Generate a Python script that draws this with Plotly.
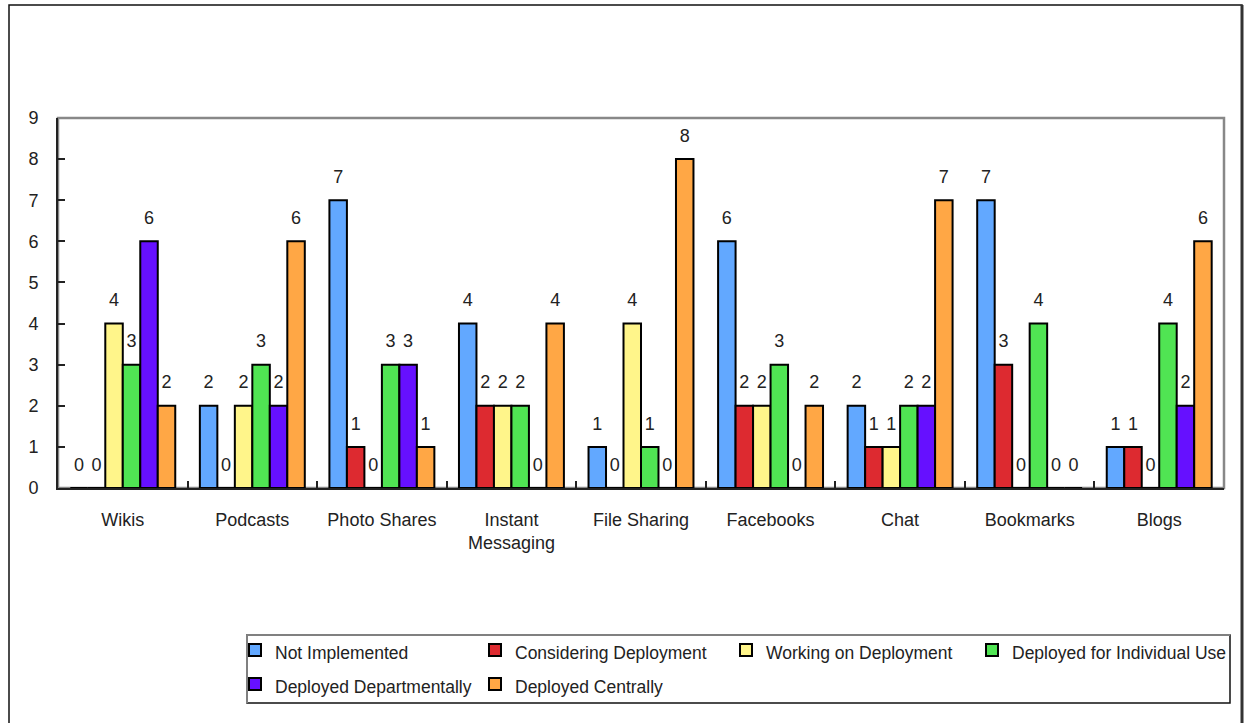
import plotly.graph_objects as go

categories = ["Wikis", "Podcasts", "Photo Shares", "Instant<br>Messaging", "File Sharing",
              "Facebooks", "Chat", "Bookmarks", "Blogs"]
series_names = ["Not Implemented", "Considering Deployment", "Working on Deployment",
                "Deployed for Individual Use", "Deployed Departmentally", "Deployed Centrally"]
not_implemented = [0, 2, 7, 4, 1, 6, 2, 7, 1]
considering = [0, 0, 1, 2, 0, 2, 1, 3, 1]
working = [4, 2, 0, 2, 4, 2, 1, 0, 0]
individual = [3, 3, 3, 2, 1, 3, 2, 4, 4]
departmental = [6, 2, 3, 0, 0, 0, 2, 0, 2]
central = [2, 6, 1, 4, 8, 2, 7, 0, 6]
series_values = [not_implemented, considering, working, individual, departmental, central]
colors = ["#62A8FF", "#DD2A30", "#FFF58A", "#50E453", "#6610FF", "#FFA745"]
y_ticks = [0, 1, 2, 3, 4, 5, 6, 7, 8, 9]

# legend layout: which legend row each series goes into, and item widths (px)
legend_ids = ["legend", "legend", "legend", "legend", "legend2", "legend2"]
legend_widths = [195, 206, 201, 222, 195, 160]

FONT = "Liberation Sans, Arial, sans-serif"
FS = 18
LEG_FS = 17.5
W, H = 1250, 723
ML, MR, MT, MB = 58, 26, 118, 235
PW, PH = W - ML - MR, H - MT - MB

def px_x(p):
    return (p - ML) / PW

def px_y(p):
    return (H - MB - p) / PH

fig = go.Figure()
GAP = 0.19
for i, (name, vals, col) in enumerate(zip(series_names, series_values, colors)):
    fig.add_trace(go.Bar(
        name=f'<span style="font-size:{LEG_FS}px">{name}</span>', x=categories, y=vals,
        marker_color=col, marker_line=dict(color="#000000", width=2), offsetgroup=f"g{i}",
        hovertemplate=name + ": %{y}<extra></extra>",
        legend=legend_ids[i], legendwidth=legend_widths[i],
    ))
for i, vals in enumerate(series_values):
    fig.add_trace(go.Scatter(
        x=categories, y=vals, mode="markers+text", text=[str(v) for v in vals],
        textposition="top center", offsetgroup=f"g{i}", showlegend=False,
        marker=dict(size=19, color="rgba(0,0,0,0)", line=dict(width=0)),
        textfont=dict(family=FONT, size=FS, color="#222222"), hoverinfo="skip",
        cliponaxis=False,
    ))

legend_common = dict(
    orientation="h", xref="container", yref="container", xanchor="left", yanchor="top",
    borderwidth=0, bgcolor="rgba(0,0,0,0)", entrywidthmode="pixels",
    font=dict(family=FONT, size=23.8, color="#222222"), traceorder="normal",
)
fig.update_layout(
    width=W, height=H, margin=dict(l=ML, r=MR, t=MT, b=MB, autoexpand=False),
    paper_bgcolor="white", plot_bgcolor="white",
    barmode="group", bargap=GAP, bargroupgap=0,
    scattermode="group", scattergap=GAP,
    font=dict(family=FONT, size=FS, color="#222222"),
    legend=dict(x=235 / W, y=1 - 628 / H, **legend_common),
    legend2=dict(x=235 / W, y=1 - 662 / H, **legend_common),
    showlegend=True,
)
fig.update_xaxes(
    showline=True, linecolor="#222222", linewidth=2, ticks="inside", tickson="boundaries",
    ticklen=7, tickwidth=1.5, tickcolor="#222222", showgrid=False, ticklabelstandoff=14,
    tickfont=dict(family=FONT, size=FS, color="#222222"),
)
fig.update_yaxes(
    range=[0, 9], tickvals=y_ticks, showline=True, linecolor="#222222", linewidth=2,
    ticks="inside", ticklen=7, tickwidth=2, tickcolor="#222222", showgrid=False,
    zeroline=False, ticklabelstandoff=14,
    tickfont=dict(family=FONT, size=FS, color="#222222"),
)

shapes = [
    # plot area frame (gray top/right)
    dict(type="rect", xref="paper", yref="paper", x0=0, x1=1, y0=0, y1=1,
         line=dict(color="#888888", width=2.5), layer="below"),
    # outer chart border
    dict(type="rect", xref="paper", yref="paper", x0=px_x(9), x1=px_x(1242),
         y0=px_y(740), y1=px_y(5), line=dict(color="#111111", width=1.5), layer="below"),
    dict(type="line", xref="paper", yref="paper", x0=px_x(1242), x1=px_x(1242),
         y0=px_y(740), y1=px_y(5), line=dict(color="#333333", width=3), layer="below"),
    # legend box
    dict(type="rect", xref="paper", yref="paper", x0=px_x(247), x1=px_x(1230),
         y0=px_y(703), y1=px_y(635), line=dict(color="#111111", width=1.5), layer="below"),
    dict(type="line", xref="paper", yref="paper", x0=px_x(247), x1=px_x(1230),
         y0=px_y(635), y1=px_y(635), line=dict(color="#808080", width=2), layer="below"),
    dict(type="line", xref="paper", yref="paper", x0=px_x(247), x1=px_x(247),
         y0=px_y(703), y1=px_y(635), line=dict(color="#808080", width=2), layer="below"),
]
fig.update_layout(shapes=shapes)

fig.write_html("out.html")
